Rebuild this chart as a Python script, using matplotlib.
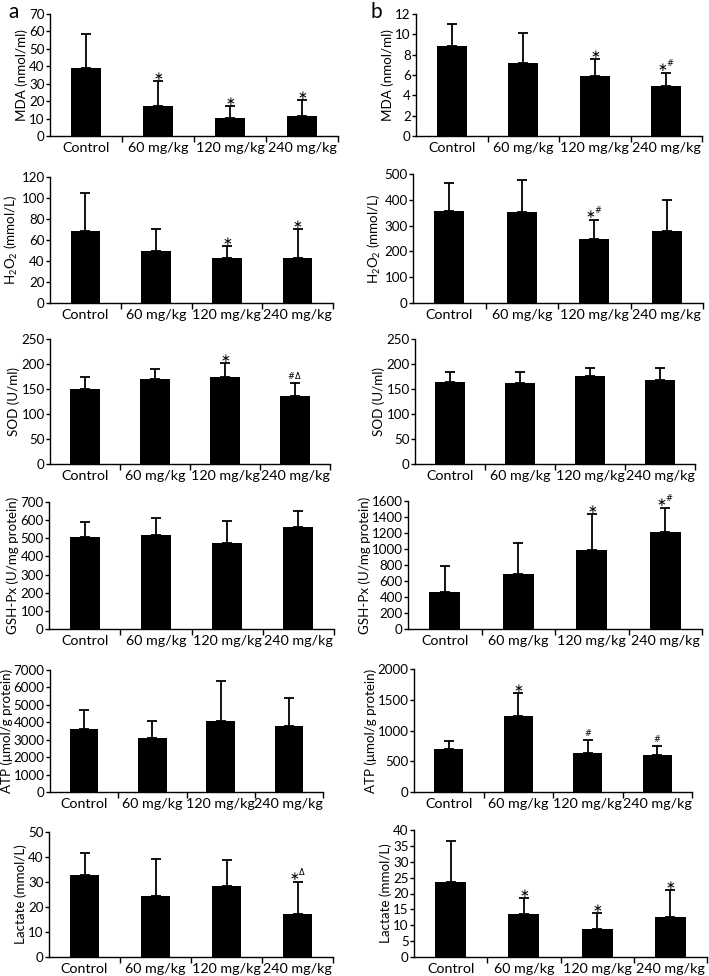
import matplotlib
matplotlib.use("Agg")
import matplotlib.pyplot as plt
import numpy as np

plt.rcParams['font.family'] = ['Lato', 'DejaVu Sans']
plt.rcParams['mathtext.default'] = 'regular'

groups = ['Control', '60 mg/kg', '120 mg/kg', '240 mg/kg']

# column a
mda_a = [39.3, 17.2, 10.3, 11.6]
mda_a_sd = [19.5, 14.5, 6.7, 9.2]
h2o2_a = [68.2, 49.8, 42.8, 42.8]
h2o2_a_sd = [36.3, 20.6, 11.5, 27.9]
sod_a = [150, 170, 174.5, 137]
sod_a_sd = [24, 20, 28.5, 25]
gsh_a = [507, 520, 476, 561]
gsh_a_sd = [83, 94, 121, 90]
atp_a = [3605, 3071, 4101, 3815]
atp_a_sd = [1125, 992, 2250, 1564]
lac_a = [32.9, 24.5, 28.5, 17.1]
lac_a_sd = [8.6, 14.7, 10.2, 13.0]

# column b
mda_b = [8.9, 7.2, 5.9, 4.9]
mda_b_sd = [2.1, 2.96, 1.7, 1.25]
h2o2_b = [355, 352, 247, 280]
h2o2_b_sd = [111, 125, 75, 119]
sod_b = [164, 162, 177, 168]
sod_b_sd = [21, 23, 15, 24]
gsh_b = [465, 690, 985, 1214]
gsh_b_sd = [325, 386, 453, 295]
atp_b = [698, 1237, 638, 605]
atp_b_sd = [130, 371, 201, 147]
lac_b = [23.6, 13.4, 8.9, 12.5]
lac_b_sd = [12.9, 5.2, 4.9, 8.6]

# significance marks
mda_a_sig = ['', '*', '*', '*']
h2o2_a_sig = ['', '', '*', '*']
sod_a_sig = ['', '', '*', '#Δ']
gsh_a_sig = ['', '', '', '']
atp_a_sig = ['', '', '', '']
lac_a_sig = ['', '', '', '*Δ']
mda_b_sig = ['', '', '*', '*#']
h2o2_b_sig = ['', '', '*#', '']
sod_b_sig = ['', '', '', '']
gsh_b_sig = ['', '', '*', '*#']
atp_b_sig = ['', '*', '#', '#']
lac_b_sig = ['', '*', '*', '*']

W, H = 709, 976
fig = plt.figure(figsize=(W / 100, H / 100), dpi=100)


def mark(ax, xi, y, m):
    # star at normal size, # and delta smaller
    parts = []
    for ch in m:
        if ch == '*':
            parts.append(r'$\ast$')
        else:
            parts.append(r'$^{\mathregular{%s}}$' % ('\\#' if ch == '#' else ch))
    ax.annotate(''.join(parts), (xi, y), xytext=(0, -1.5), textcoords='offset points',
                ha='center', va='bottom', fontsize=8.5, family='DejaVu Sans')


def panel(box, vals, sds, sig, ylabel, ymax, ystep):
    l, t, r, b = box
    ax = fig.add_axes([l / W, 1 - b / H, (r - l) / W, (b - t) / H])
    x = np.arange(len(groups))
    ax.bar(x, vals, width=0.42, color='black', zorder=2)
    ax.errorbar(x, vals, yerr=[np.zeros(len(vals)), sds], fmt='none',
                ecolor='black', elinewidth=1.3, capsize=3.5, capthick=1.3, zorder=1)
    for xi, v, s, m in zip(x, vals, sds, sig):
        if m:
            mark(ax, xi, v + s, m)
    ax.set_xlim(-0.5, 3.5)
    ax.set_ylim(0, ymax)
    ax.set_yticks(np.arange(0, ymax + ystep / 2, ystep))
    ax.set_xticks(x)
    ax.set_xticklabels(groups, fontsize=10.3)
    ax.set_xticks([0.5, 1.5, 2.5, 3.5], minor=True)
    ax.tick_params(axis='x', which='major', length=0, pad=4)
    ax.tick_params(axis='x', which='minor', length=4, direction='out', width=1)
    ax.tick_params(axis='y', length=3, direction='out', width=1, labelsize=9.6, pad=0.8)
    for s in ['top', 'right']:
        ax.spines[s].set_visible(False)
    for s in ['left', 'bottom']:
        ax.spines[s].set_linewidth(1)
    ax.set_ylabel(ylabel, fontsize=9.6, labelpad=0.8)
    return ax


panel((50, 14, 338, 136), mda_a, mda_a_sd, mda_a_sig, 'MDA (nmol/ml)', 70, 10)
panel((50, 177, 333, 303), h2o2_a, h2o2_a_sd, h2o2_a_sig, 'H$_2$O$_2$ (mmol/L)', 120, 20)
panel((50, 339, 330, 464), sod_a, sod_a_sd, sod_a_sig, 'SOD (U/ml)', 250, 50)
panel((49, 502, 334, 629), gsh_a, gsh_a_sd, gsh_a_sig, 'GSH-Px (U/mg protein)', 700, 100)
panel((50, 670, 323, 792), atp_a, atp_a_sd, atp_a_sig, 'ATP (μmol/g protein)', 7000, 1000)
panel((49, 832, 333, 957), lac_a, lac_a_sd, lac_a_sig, 'Lactate (mmol/L)', 50, 10)

panel((416, 14, 702, 136), mda_b, mda_b_sd, mda_b_sig, 'MDA (nmol/ml)', 12, 2)
panel((413, 174, 703, 303), h2o2_b, h2o2_b_sd, h2o2_b_sig, 'H$_2$O$_2$ (mmol/L)', 500, 100)
panel((415, 339, 695, 464), sod_b, sod_b_sd, sod_b_sig, 'SOD (U/ml)', 250, 50)
panel((408, 501, 702, 629), gsh_b, gsh_b_sd, gsh_b_sig, 'GSH-Px (U/mg protein)', 1600, 200)
panel((414, 669, 692, 792), atp_b, atp_b_sd, atp_b_sig, 'ATP (μmol/g protein)', 2000, 500)
panel((414, 830, 707, 957), lac_b, lac_b_sd, lac_b_sig, 'Lactate (mmol/L)', 40, 5)

fig.text(8 / W, 1 - 12 / H, 'a', fontsize=15, va='center', ha='left')
fig.text(370 / W, 1 - 12 / H, 'b', fontsize=15, va='center', ha='left')

fig.savefig('out.png', dpi=100)
